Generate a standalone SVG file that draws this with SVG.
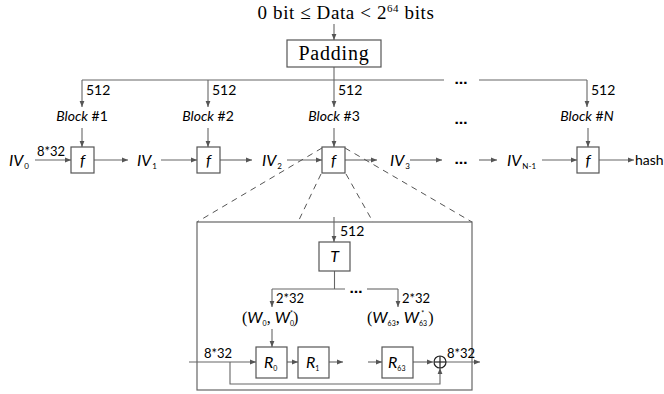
<svg xmlns="http://www.w3.org/2000/svg" width="664" height="394" viewBox="0 0 664 394">
<defs>
<marker id="ah" viewBox="0 0 6 6" refX="6" refY="3" markerWidth="6" markerHeight="6" markerUnits="userSpaceOnUse" orient="auto">
<path d="M0,0.6 L6,3 L0,5.4 Z" fill="#555"/>
</marker>
<style>
.ln{fill:none;stroke:#666;stroke-width:1.1}
.ar{fill:none;stroke:#666;stroke-width:1.1;marker-end:url(#ah)}
.dash{fill:none;stroke:#555;stroke-width:1;stroke-dasharray:6,5}
.box{fill:#fff;stroke:#555;stroke-width:1.2}
.serif{font-family:"Liberation Serif","DejaVu Serif",serif;fill:#000}
.sans{font-family:Lato,"Open Sans","Noto Sans",sans-serif;fill:#000}
.it{font-style:italic}
.s14{font-size:14px}
.s13{font-size:13px}
.mid{text-anchor:middle}
.dots{font-family:"DejaVu Sans",sans-serif;font-weight:bold;font-size:13px;text-anchor:middle}
</style>
</defs>

<g id="connectors">
<line class="ar" x1="334" y1="24" x2="334" y2="40"/>
<line class="ln" x1="334" y1="67" x2="334" y2="80"/>
<polyline class="ln" points="444,80 82,80"/>
<line class="ln" x1="479" y1="80" x2="587" y2="80"/>
<line class="ar" x1="82" y1="80" x2="82" y2="107"/>
<line class="ar" x1="208" y1="80" x2="208" y2="107"/>
<line class="ar" x1="334" y1="80" x2="334" y2="107"/>
<line class="ar" x1="587" y1="80" x2="587" y2="107"/>
<line class="ar" x1="82" y1="128" x2="82" y2="147"/>
<line class="ar" x1="208" y1="128" x2="208" y2="147"/>
<line class="ar" x1="334" y1="128" x2="334" y2="147"/>
<line class="ar" x1="588" y1="128" x2="588" y2="147"/>
<line class="ar" x1="35" y1="160" x2="71" y2="160"/>
<line class="ar" x1="94" y1="160" x2="128" y2="160"/>
<line class="ar" x1="161" y1="160" x2="197" y2="160"/>
<line class="ar" x1="220" y1="160" x2="252" y2="160"/>
<line class="ar" x1="287" y1="160" x2="322" y2="160"/>
<line class="ar" x1="345" y1="160" x2="377" y2="160"/>
<line class="ar" x1="410" y1="160" x2="442" y2="160"/>
<line class="ar" x1="479" y1="160" x2="497" y2="160"/>
<line class="ar" x1="542" y1="160" x2="577" y2="160"/>
<line class="ar" x1="599" y1="160" x2="634" y2="160"/>
<line class="dash" x1="322" y1="148" x2="197" y2="222"/>
<line class="dash" x1="345" y1="148" x2="472" y2="222"/>
<line class="dash" x1="321" y1="174" x2="298" y2="222"/>
<line class="dash" x1="346" y1="174" x2="373" y2="222"/>
<line class="ar" x1="334" y1="217" x2="334" y2="242"/>
<line class="ln" x1="334.5" y1="271" x2="334.5" y2="289"/>
<line class="ln" x1="272" y1="289" x2="345" y2="289"/>
<line class="ln" x1="367" y1="289" x2="398" y2="289"/>
<line class="ar" x1="272" y1="289" x2="272" y2="307"/>
<line class="ar" x1="398" y1="289" x2="398" y2="307"/>
<line class="ar" x1="272" y1="329" x2="272" y2="347"/>
<line class="ar" x1="189" y1="362" x2="256" y2="362"/>
<line class="ar" x1="287" y1="362" x2="298" y2="362"/>
<line class="ar" x1="329" y1="362" x2="343" y2="362"/>
<line class="ar" x1="368" y1="362" x2="382" y2="362"/>
<line class="ar" x1="413" y1="362" x2="433" y2="362"/>
<line class="ar" x1="446" y1="362" x2="480" y2="362"/>
<polyline class="ar" points="230,362 230,384 440,384 440,368"/>
</g>

<g id="title"><text class="serif mid" x="346" y="19" font-size="19" letter-spacing="0.6">0 bit ≤ Data &lt; 2<tspan font-size="11" dy="-7">64</tspan><tspan dy="7"> bits</tspan></text></g>

<g id="padding">
<rect class="box" x="287" y="40" width="94" height="27"/>
<text class="serif mid" x="334" y="60" font-size="20" letter-spacing="0.8">Padding</text>
</g>

<g id="labels512">
<text class="sans s14" x="86" y="95">512</text>
<text class="sans s14" x="212" y="95">512</text>
<text class="sans s14" x="338" y="95">512</text>
<text class="sans s14" x="591" y="95">512</text>
<text class="dots" x="461" y="84">…</text>
</g>

<g id="block1"><text class="sans s14 mid" x="82" y="121"><tspan class="it">Block</tspan> #1</text></g>
<g id="block2"><text class="sans s14 mid" x="208" y="121"><tspan class="it">Block</tspan> #2</text></g>
<g id="block3"><text class="sans s14 mid" x="334" y="121"><tspan class="it">Block</tspan> #3</text></g>
<g id="blockdots"><text class="dots" x="461" y="124">…</text></g>
<g id="blockN"><text class="sans s14 mid" x="587" y="121"><tspan class="it">Block</tspan> #<tspan class="it">N</tspan></text></g>

<g id="iv0"><text class="sans it" x="9" y="166" font-size="16">IV<tspan font-size="8" font-style="normal" dx="1" dy="3">0</tspan></text></g>
<g id="lbl832a"><text class="sans s13" x="37" y="156">8*32</text></g>
<g id="f1"><rect class="box" x="71" y="147" width="23" height="26"/><text class="sans it mid" x="82.5" y="166" font-size="16">f</text></g>
<g id="iv1"><text class="sans it" x="137" y="166" font-size="16">IV<tspan font-size="8" font-style="normal" dx="1" dy="3">1</tspan></text></g>
<g id="f2"><rect class="box" x="197" y="147" width="23" height="26"/><text class="sans it mid" x="208.5" y="166" font-size="16">f</text></g>
<g id="iv2"><text class="sans it" x="262" y="166" font-size="16">IV<tspan font-size="8" font-style="normal" dx="1" dy="3">2</tspan></text></g>
<g id="f3"><rect class="box" x="322" y="147" width="23" height="26"/><text class="sans it mid" x="333.5" y="166" font-size="16">f</text></g>
<g id="iv3"><text class="sans it" x="390" y="166" font-size="16">IV<tspan font-size="8" font-style="normal" dx="1" dy="3">3</tspan></text></g>
<g id="ivdots"><text class="dots" x="461" y="164">…</text></g>
<g id="ivn1"><text class="sans it" x="507" y="166" font-size="16">IV<tspan font-size="8" font-style="normal" dx="1" dy="3">N-1</tspan></text></g>
<g id="f4"><rect class="box" x="577" y="147" width="22" height="26"/><text class="sans it mid" x="588" y="166" font-size="16">f</text></g>
<g id="hash"><text class="sans" x="635" y="165" font-size="14">hash</text></g>

<g id="detail">
<rect x="197" y="222" width="275" height="168" fill="none" stroke="#666" stroke-width="1.2"/>
</g>
<g id="lbl512t"><text class="sans s14" x="340" y="236">512</text></g>
<g id="T"><rect class="box" x="319" y="242" width="31" height="29"/><text class="sans it mid" x="334.5" y="262" font-size="16">T</text></g>
<g id="wdots"><text class="dots" x="356" y="293">…</text></g>
<g id="lbl232a"><text class="sans s13" x="276" y="303">2*32</text></g>
<g id="lbl232b"><text class="sans s13" x="402" y="303">2*32</text></g>
<g id="w0"><text class="serif" x="242" y="323" font-size="16">(<tspan class="sans it">W</tspan><tspan class="sans" font-size="7" dy="3">0</tspan><tspan dy="-3">, </tspan><tspan class="sans it">W</tspan><tspan class="sans" font-size="7" dy="3">0</tspan><tspan class="sans" font-size="7" dx="-4" dy="-10">*</tspan><tspan dy="7">)</tspan></text></g>
<g id="w63"><text class="serif" x="367" y="323" font-size="16">(<tspan class="sans it">W</tspan><tspan class="sans" font-size="7" dy="3">63</tspan><tspan dy="-3">, </tspan><tspan class="sans it">W</tspan><tspan class="sans" font-size="7" dy="3">63</tspan><tspan class="sans" font-size="7" dx="-6" dy="-10">*</tspan><tspan dy="7" dx="4">)</tspan></text></g>
<g id="lbl832b"><text class="sans s13" x="204" y="358">8*32</text></g>
<g id="R0"><rect class="box" x="256" y="347" width="31" height="31"/><text class="sans it" x="264" y="368" font-size="16">R<tspan font-size="7" font-style="normal" dy="3">0</tspan></text></g>
<g id="R1"><rect class="box" x="298" y="347" width="31" height="31"/><text class="sans it" x="306" y="368" font-size="16">R<tspan font-size="7" font-style="normal" dy="3">1</tspan></text></g>
<g id="R63"><rect class="box" x="382" y="347" width="31" height="31"/><text class="sans it" x="388" y="368" font-size="16">R<tspan font-size="7" font-style="normal" dy="3">63</tspan></text></g>
<g id="xor"><circle cx="440" cy="362" r="6" fill="none" stroke="#222" stroke-width="1.2"/><line x1="434" y1="362" x2="446" y2="362" stroke="#222" stroke-width="1.2"/><line x1="440" y1="356" x2="440" y2="368" stroke="#222" stroke-width="1.2"/></g>
<g id="lbl832c"><text class="sans s13" x="447" y="358">8*32</text></g>
</svg>
